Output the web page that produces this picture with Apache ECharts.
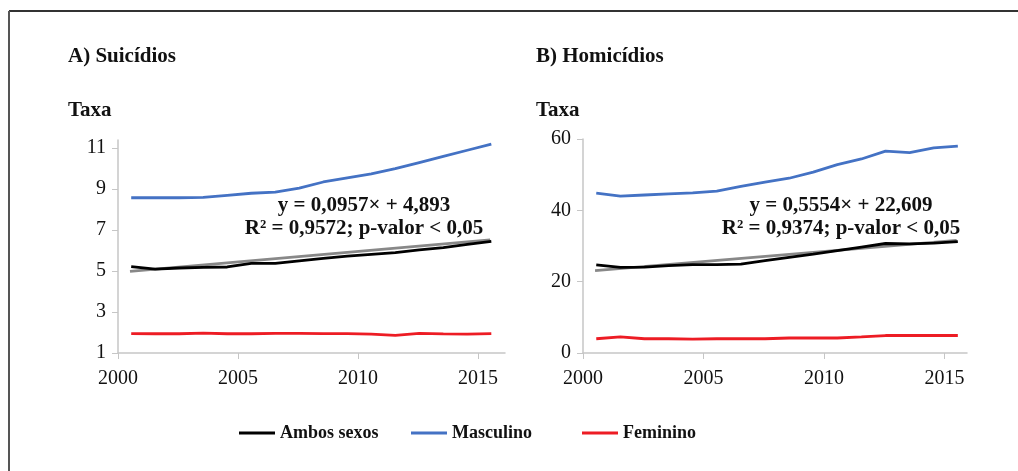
<!DOCTYPE html>
<html>
<head>
<meta charset="utf-8">
<script src="https://cdn.jsdelivr.net/npm/echarts@6/dist/echarts.min.js"></script>
<style>
  html, body { margin: 0; padding: 0; background: #fff; }
  #chart { width: 1018px; height: 471px; }
</style>
</head>
<body>
<div id="chart"></div>
<script>
// anos (pontos ao meio de cada ano no eixo)
const years = [2000, 2001, 2002, 2003, 2004, 2005, 2006, 2007, 2008, 2009, 2010, 2011, 2012, 2013, 2014, 2015];
const xTicks = [2000, 2005, 2010, 2015];

// A) Suicídios
const suicAmbos = [5.22, 5.1, 5.15, 5.18, 5.2, 5.38, 5.38, 5.5, 5.62, 5.73, 5.82, 5.9, 6.03, 6.15, 6.3, 6.45];
const suicMasc = [8.58, 8.58, 8.58, 8.6, 8.7, 8.8, 8.85, 9.05, 9.35, 9.55, 9.75, 10.0, 10.3, 10.6, 10.9, 11.2];
const suicFem = [1.95, 1.94, 1.94, 1.97, 1.94, 1.94, 1.96, 1.96, 1.95, 1.95, 1.92, 1.86, 1.96, 1.93, 1.92, 1.95];
const suicTrend = [[2000, 4.99], [2015, 6.52]];
const suicTicks = [1, 3, 5, 7, 9, 11];

// B) Homicídios
const homAmbos = [24.7, 24.0, 24.1, 24.5, 24.8, 24.8, 24.9, 25.9, 26.8, 27.7, 28.7, 29.7, 30.7, 30.6, 30.8, 31.2];
const homMasc = [44.8, 44.0, 44.3, 44.6, 44.9, 45.4, 46.7, 47.9, 49.0, 50.7, 52.8, 54.4, 56.6, 56.2, 57.5, 58.0];
const homFem = [4.0, 4.5, 4.0, 4.0, 3.9, 4.0, 4.0, 4.0, 4.2, 4.2, 4.2, 4.5, 4.9, 4.9, 4.9, 4.9];
const homTrend = [[2000, 23.1], [2015, 31.6]];
const homTicks = [0, 20, 40, 60];

const FONT = 'Liberation Serif';
const pts = (arr, yrs) => arr.map((v, i) => [yrs[i] + 0.55, v]);

function xAxisCfg(idx, max) {
    return {
        type: 'value', gridIndex: idx, min: 2000, max: max,
        axisLine: { lineStyle: { color: '#c6c6c6', width: 1.5 } },
        axisTick: { show: true, length: 6, customValues: xTicks, lineStyle: { color: '#c6c6c6' } },
        splitLine: { show: false },
        axisLabel: {
            customValues: xTicks, formatter: v => String(v),
            color: '#111', fontFamily: FONT, fontSize: 20, margin: 16
        }
    };
}
function yAxisCfg(idx, min, max, ticks) {
    return {
        type: 'value', gridIndex: idx, min: min, max: max,
        axisLine: { show: true, lineStyle: { color: '#c6c6c6', width: 1.5 } },
        axisTick: { show: true, length: 6, customValues: ticks, lineStyle: { color: '#c6c6c6' } },
        splitLine: { show: false },
        axisLabel: { customValues: ticks, color: '#111', fontFamily: FONT, fontSize: 20, margin: 12 }
    };
}
function lineS(name, data, idx, color, z) {
    return {
        name: name, type: 'line', xAxisIndex: idx, yAxisIndex: idx, data: data,
        symbol: 'none', smooth: false, z: z || 2,
        lineStyle: { color: color, width: 2.8 }, itemStyle: { color: color }
    };
}
function legendCfg(name, left) {
    return {
        data: [name], left: left, top: 419, icon: 'rect', itemWidth: 36, itemHeight: 3,
        textStyle: { fontFamily: FONT, fontSize: 18, fontWeight: 'bold', color: '#111' }, itemGap: 0
    };
}

const titleStyle = { fontFamily: FONT, fontSize: 21, fontWeight: 'bold', color: '#111' };

const myChart = echarts.init(document.getElementById('chart'));
myChart.setOption({
    animation: false,
    title: [
        { text: 'A) Suicídios', left: 63, top: 41, textStyle: titleStyle },
        { text: 'Taxa', left: 63, top: 95, textStyle: titleStyle },
        { text: 'B) Homicídios', left: 531, top: 41, textStyle: titleStyle },
        { text: 'Taxa', left: 531, top: 95, textStyle: titleStyle }
    ],
    legend: [
        legendCfg('Ambos sexos', 234),
        legendCfg('Masculino', 406),
        legendCfg('Feminino', 577)
    ],
    grid: [
        { left: 118, right: 513, top: 140, bottom: 118 },
        { left: 583, right: 51, top: 139, bottom: 118 }
    ],
    xAxis: [xAxisCfg(0, 2016.12), xAxisCfg(1, 2015.93)],
    yAxis: [yAxisCfg(0, 1, 11.4, suicTicks), yAxisCfg(1, 0, 60, homTicks)],
    series: [
        lineS('Tendência', suicTrend.map(p => [p[0] + 0.5, p[1]]), 0, '#888888', 1),
        lineS('Ambos sexos', pts(suicAmbos, years), 0, '#000000', 3),
        lineS('Masculino', pts(suicMasc, years), 0, '#4472c4'),
        lineS('Feminino', pts(suicFem, years), 0, '#ed1c24'),
        lineS('Tendência', homTrend.map(p => [p[0] + 0.5, p[1]]), 1, '#888888', 1),
        lineS('Ambos sexos', pts(homAmbos, years), 1, '#000000', 3),
        lineS('Masculino', pts(homMasc, years), 1, '#4472c4'),
        lineS('Feminino', pts(homFem, years), 1, '#ed1c24')
    ],
    graphic: [
        // moldura (linha superior e esquerda)
        { type: 'line', shape: { x1: 9, y1: 11, x2: 1018, y2: 11 }, style: { stroke: '#333', lineWidth: 2 } },
        { type: 'line', shape: { x1: 9, y1: 11, x2: 9, y2: 471 }, style: { stroke: '#555', lineWidth: 2 } },
        {
            type: 'text', x: 364, y: 194,
            style: { text: 'y = 0,0957× + 4,893\nR² = 0,9572; p-valor < 0,05', align: 'center', font: 'bold 21px "Liberation Serif"', fill: '#111', lineHeight: 23 }
        },
        {
            type: 'text', x: 841, y: 194,
            style: { text: 'y = 0,5554× + 22,609\nR² = 0,9374; p-valor < 0,05', align: 'center', font: 'bold 21px "Liberation Serif"', fill: '#111', lineHeight: 23 }
        }
    ]
});
</script>
</body>
</html>
